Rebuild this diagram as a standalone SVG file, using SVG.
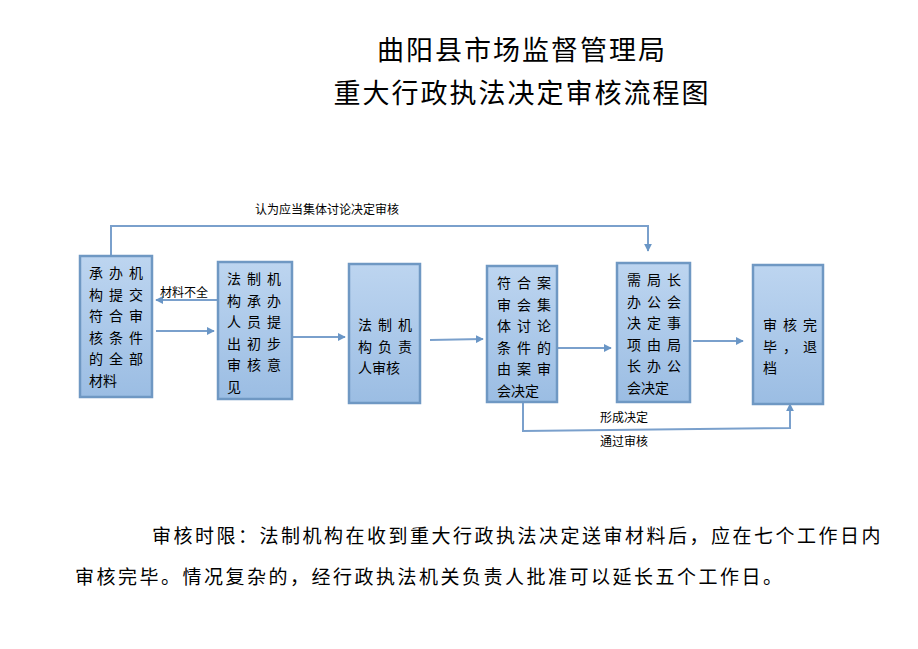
<svg xmlns="http://www.w3.org/2000/svg" width="918" height="649" viewBox="0 0 918 649">
<defs>
<linearGradient id="g" x1="0" y1="0" x2="0" y2="1"><stop offset="0" stop-color="#bdd5f0"/><stop offset="1" stop-color="#9bbde3"/></linearGradient>
<marker id="a" viewBox="0 0 10 10" refX="9" refY="5" markerWidth="4" markerHeight="4" orient="auto"><path d="M0,0L10,5L0,10z" fill="#6a96c6"/></marker>
<style>
.b{fill:url(#g);stroke:#6f98c3;stroke-width:2.5}
.t{font-family:"Noto Sans CJK SC","Liberation Sans",sans-serif;font-size:14px;fill:#000}
.l{fill:none;stroke:#7aa0cc;stroke-width:2;marker-end:url(#a)}
.s{font-family:"Noto Sans CJK SC",sans-serif;font-size:12px}
</style>
</defs>
<rect width="918" height="649" fill="#fff"/>
<g font-family="Noto Sans CJK SC,sans-serif" font-size="27" text-anchor="middle">
<text x="522" y="60" letter-spacing="2">曲阳县市场监督管理局</text>
<text x="522" y="103" letter-spacing="2">重大行政执法决定审核流程图</text>
</g>
<g id="connectors">
<path class="l" d="M111,256V226H648V251"/>
<path class="l" d="M218,300H156"/>
<path class="l" d="M156,331H214"/>
<path class="l" d="M293,337H345"/>
<path class="l" d="M430,340L483,339"/>
<path class="l" d="M558,348H611"/>
<path class="l" d="M693,341H743"/>
<path class="l" d="M523,403V431L790,428V404"/>
<text class="s" x="255" y="214">认为应当集体讨论决定审核</text>
<text class="s" x="160" y="297">材料不全</text>
<text class="s" x="600" y="422">形成决定</text>
<text class="s" x="600" y="446">通过审核</text>
</g>
<g id="n1"><rect class="b" x="80" y="256" width="72" height="141"/>
<text class="t" x="89" y="278" letter-spacing="6"><tspan x="89">承办机</tspan><tspan x="89" dy="21.5">构提交</tspan><tspan x="89" dy="21.5">符合审</tspan><tspan x="89" dy="21.5">核条件</tspan><tspan x="89" dy="21.5">的全部</tspan><tspan x="89" dy="21.5" letter-spacing="0">材料</tspan></text></g>
<g id="n2"><rect class="b" x="218" y="262" width="74" height="137"/>
<text class="t" x="227" y="284" letter-spacing="6"><tspan x="227">法制机</tspan><tspan x="227" dy="21.5">构承办</tspan><tspan x="227" dy="21.5">人员提</tspan><tspan x="227" dy="21.5">出初步</tspan><tspan x="227" dy="21.5">审核意</tspan><tspan x="227" dy="21.5">见</tspan></text></g>
<g id="n3"><rect class="b" x="349" y="264" width="71" height="139"/>
<text class="t" x="358" y="330" letter-spacing="6"><tspan x="358">法制机</tspan><tspan x="358" dy="21.5">构负责</tspan><tspan x="358" dy="21.5" letter-spacing="0">人审核</tspan></text></g>
<g id="n4"><rect class="b" x="487" y="266" width="70" height="136"/>
<text class="t" x="497" y="288" letter-spacing="6"><tspan x="497">符合案</tspan><tspan x="497" dy="21.5">审会集</tspan><tspan x="497" dy="21.5">体讨论</tspan><tspan x="497" dy="21.5">条件的</tspan><tspan x="497" dy="21.5">由案审</tspan><tspan x="497" dy="21.5" letter-spacing="0">会决定</tspan></text></g>
<g id="n5"><rect class="b" x="617" y="263" width="73" height="139"/>
<text class="t" x="627" y="285" letter-spacing="6"><tspan x="627">需局长</tspan><tspan x="627" dy="21.5">办公会</tspan><tspan x="627" dy="21.5">决定事</tspan><tspan x="627" dy="21.5">项由局</tspan><tspan x="627" dy="21.5">长办公</tspan><tspan x="627" dy="21.5" letter-spacing="0">会决定</tspan></text></g>
<g id="n6"><rect class="b" x="753" y="265" width="70" height="139"/>
<text class="t" x="763" y="330" letter-spacing="6"><tspan x="763">审核完</tspan><tspan x="763" dy="21.5">毕，退</tspan><tspan x="763" dy="21.5">档</tspan></text></g>
<g font-family="Noto Sans CJK SC,sans-serif" font-size="19" letter-spacing="2.5">
<text x="152" y="543">审核时限：法制机构在收到重大行政执法决定送审材料后，应在七个工作日内</text>
<text x="75" y="584">审核完毕。情况复杂的，经行政执法机关负责人批准可以延长五个工作日。</text>
</g>
</svg>
